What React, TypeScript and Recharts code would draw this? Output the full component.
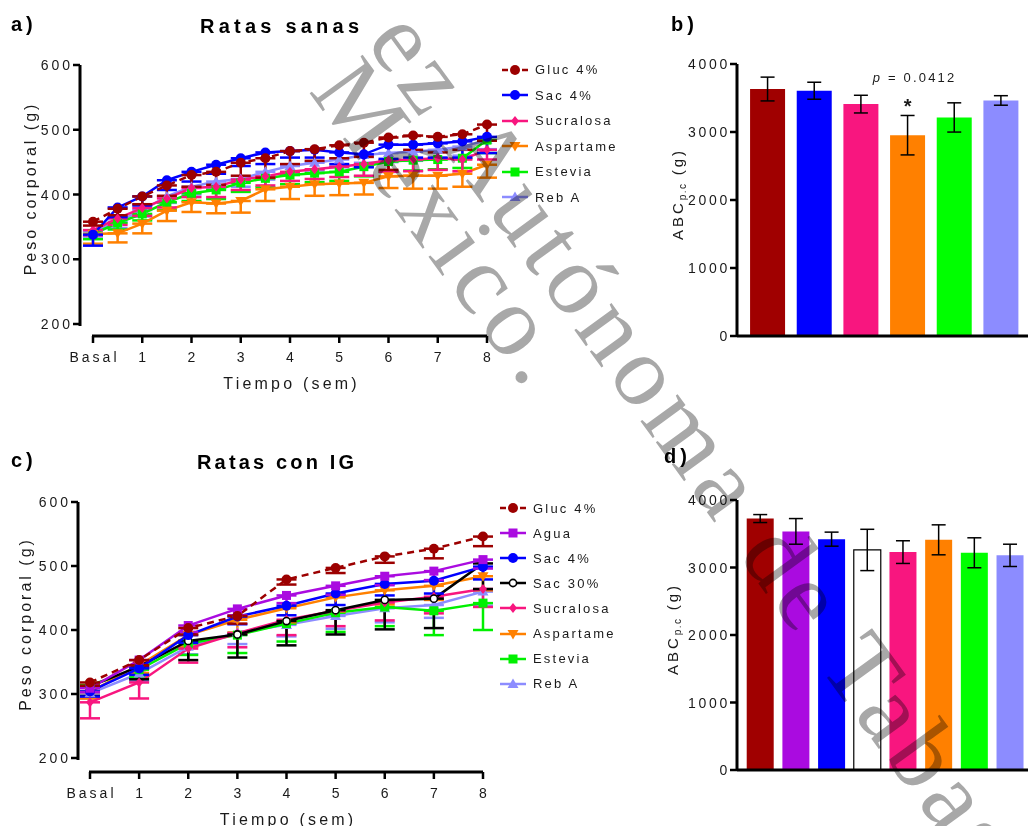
import React from 'react';
import { LineChart, Line, XAxis, YAxis, ErrorBar, Legend, BarChart, Bar, Cell, LabelList } from 'recharts';

// ---------- data: panel a (Ratas sanas) ----------
const weeksA = [0, 0.5, 1, 1.5, 2, 2.5, 3, 3.5, 4, 4.5, 5, 5.5, 6, 6.5, 7, 7.5, 8];
const glucA = [358, 378, 397, 414, 430, 435, 449, 456, 467, 470, 476, 480, 488, 491, 489, 493, 508];
const glucAErr = [6, 10, 12, 16, 18, 20, 20, 30, 20, 18, 20, 22, 50, 22, 24, 24, 25];
const sac4A = [338, 380, 397, 422, 435, 446, 456, 465, 467, 469, 465, 462, 477, 477, 479, 482, 489];
const sac4AErr = [17, 15, 14, 15, 15, 14, 12, 18, 10, 12, 18, 20, 22, 20, 22, 25, 25];
const sucraA = [345, 363, 379, 394, 410, 412, 423, 428, 435, 439, 443, 447, 453, 454, 456, 454, 469];
const sucraAErr = [8, 10, 12, 14, 14, 16, 16, 14, 14, 15, 16, 18, 18, 18, 18, 18, 15];
const aspA = [339, 340, 355, 375, 388, 386, 390, 408, 412, 416, 417, 418, 428, 429, 429, 432, 446];
const aspAErr = [15, 14, 15, 16, 15, 15, 18, 18, 19, 18, 18, 18, 18, 20, 20, 20, 20];
const estA = [339, 356, 370, 388, 402, 407, 418, 425, 430, 433, 435, 443, 451, 453, 454, 456, 484];
const estAErr = [8, 10, 10, 12, 12, 14, 14, 14, 14, 14, 14, 15, 16, 16, 15, 15, 20];
const rebA = [343, 358, 376, 397, 412, 420, 424, 435, 444, 449, 454, 461, 464, 466, 469, 474, 484];
const rebAErr = [8, 10, 10, 10, 12, 12, 12, 12, 12, 12, 12, 12, 14, 14, 14, 14, 14];

// ---------- data: panel c (Ratas con IG) ----------
const weeksC = [0, 1, 2, 3, 4, 5, 6, 7, 8];
const glucC = [318, 353, 403, 422, 479, 497, 515, 527, 546];
const glucCErr = [5, 8, 10, 12, 8, 8, 10, 15, 15];
const aguaC = [309, 353, 407, 433, 454, 469, 484, 492, 510];
const aguaCErr = [6, 8, 10, 10, 12, 14, 14, 14, 14];
const sac4C = [304, 340, 392, 421, 438, 457, 472, 477, 499];
const sac4CErr = [8, 10, 12, 12, 15, 18, 18, 20, 20];
const sac30C = [312, 343, 383, 393, 414, 431, 447, 449, 504];
const sac30CErr = [15, 20, 30, 36, 38, 38, 46, 46, 40];
const sucraC = [287, 318, 371, 395, 416, 430, 443, 452, 464];
const sucraCErr = [25, 25, 22, 22, 24, 24, 28, 26, 28];
const aspC = [303, 345, 392, 416, 434, 451, 462, 469, 484];
const aspCErr = [10, 12, 18, 20, 22, 22, 22, 22, 22];
const estC = [314, 338, 379, 392, 410, 427, 436, 430, 442];
const estCErr = [10, 12, 18, 28, 28, 30, 30, 38, 42];
const rebC = [301, 332, 374, 396, 408, 422, 434, 439, 460];
const rebCErr = [8, 12, 12, 18, 18, 20, 22, 20, 22];

const weekTicks = [0, 1, 2, 3, 4, 5, 6, 7, 8];
const weekTickLabels = ['Basal', '1', '2', '3', '4', '5', '6', '7', '8'];
const weightTicks = [200, 300, 400, 500, 600];
const abcTicks = [0, 1000, 2000, 3000, 4000];

// ---------- data: panel b / d (bars) ----------
const barCatsB = ['Gluc 4%', 'Sac 4%', 'Sucralosa', 'Aspartame', 'Estevia', 'Reb A'];
const barValsB = [3632, 3607, 3410, 2953, 3214, 3464];
const barErrB = [175, 125, 130, 290, 215, 70];
const pValueText = 'p = 0.0412';

const barCatsD = ['Gluc 4%', 'Agua', 'Sac 4%', 'Sac 30%', 'Sucralosa', 'Aspartame', 'Estevia', 'Reb A'];
const barValsD = [3725, 3535, 3420, 3260, 3228, 3410, 3218, 3180];
const barErrD = [59, 190, 104, 306, 168, 222, 222, 165];

// ---------- styles ----------
const FONT = '"Liberation Sans", Arial, Helvetica, sans-serif';
const INK = '#1a1a1a';

type Shape = 'circle' | 'openCircle' | 'diamond' | 'square' | 'triDown' | 'triUp';
type SeriesStyle = { color: string; fill: string; stroke: string; shape: Shape; dash?: string };

const STYLE: Record<string, SeriesStyle> = {
  'Gluc 4%': { color: '#9c0000', fill: '#9c0000', stroke: '#9c0000', shape: 'circle', dash: '7 5' },
  'Agua': { color: '#aa0be0', fill: '#aa0be0', stroke: '#aa0be0', shape: 'square' },
  'Sac 4%': { color: '#0000ff', fill: '#0000ff', stroke: '#0000ff', shape: 'circle' },
  'Sac 30%': { color: '#000000', fill: '#ffffff', stroke: '#000000', shape: 'openCircle' },
  'Sucralosa': { color: '#f8167f', fill: '#f8167f', stroke: '#f8167f', shape: 'diamond' },
  'Aspartame': { color: '#ff8000', fill: '#ff8000', stroke: '#ff8000', shape: 'triDown' },
  'Estevia': { color: '#00f000', fill: '#00f000', stroke: '#00f000', shape: 'square' },
  'Reb A': { color: '#8c8cff', fill: '#8c8cff', stroke: '#8c8cff', shape: 'triUp' },
};
const BAR_FILL: Record<string, string> = {
  'Gluc 4%': '#a00000', 'Agua': '#aa0be0', 'Sac 4%': '#0000ff', 'Sac 30%': '#ffffff',
  'Sucralosa': '#f8167f', 'Aspartame': '#ff8000', 'Estevia': '#00ff00', 'Reb A': '#8c8cff',
};

type Series = { key: string; name: string; values: number[]; errors: number[] };

const seriesA: Series[] = [
  { key: 'gluc', name: 'Gluc 4%', values: glucA, errors: glucAErr },
  { key: 'sac4', name: 'Sac 4%', values: sac4A, errors: sac4AErr },
  { key: 'sucra', name: 'Sucralosa', values: sucraA, errors: sucraAErr },
  { key: 'asp', name: 'Aspartame', values: aspA, errors: aspAErr },
  { key: 'est', name: 'Estevia', values: estA, errors: estAErr },
  { key: 'reb', name: 'Reb A', values: rebA, errors: rebAErr },
];
const seriesC: Series[] = [
  { key: 'gluc', name: 'Gluc 4%', values: glucC, errors: glucCErr },
  { key: 'agua', name: 'Agua', values: aguaC, errors: aguaCErr },
  { key: 'sac4', name: 'Sac 4%', values: sac4C, errors: sac4CErr },
  { key: 'sac30', name: 'Sac 30%', values: sac30C, errors: sac30CErr },
  { key: 'sucra', name: 'Sucralosa', values: sucraC, errors: sucraCErr },
  { key: 'asp', name: 'Aspartame', values: aspC, errors: aspCErr },
  { key: 'est', name: 'Estevia', values: estC, errors: estCErr },
  { key: 'reb', name: 'Reb A', values: rebC, errors: rebCErr },
];

function buildRows(weeks: number[], series: Series[]) {
  return weeks.map((w, i) => {
    const row: Record<string, any> = { week: w };
    series.forEach((s) => {
      row[s.key] = s.values[i];
      row[s.key + 'Err'] = [s.errors[i], 0];
    });
    return row;
  });
}
const rowsA = buildRows(weeksA, seriesA);
const rowsC = buildRows(weeksC, seriesC);
const rowsB = barCatsB.map((c, i) => ({ name: c, value: barValsB[i], err: barErrB[i] }));
const rowsD = barCatsD.map((c, i) => ({ name: c, value: barValsD[i], err: barErrD[i] }));

// ---------- small components ----------
function Marker({ cx, cy, st }: { cx: number; cy: number; st: SeriesStyle }) {
  if (cx == null || cy == null || isNaN(cx) || isNaN(cy)) return null;
  switch (st.shape) {
    case 'circle':
      return <circle cx={cx} cy={cy} r={5} fill={st.fill} />;
    case 'openCircle':
      return <circle cx={cx} cy={cy} r={3.6} fill="#fff" stroke={st.stroke} strokeWidth={1.6} />;
    case 'diamond':
      return <polygon points={`${cx},${cy - 5} ${cx + 4},${cy} ${cx},${cy + 5} ${cx - 4},${cy}`} fill={st.fill} />;
    case 'square':
      return <rect x={cx - 4.5} y={cy - 4.5} width={9} height={9} fill={st.fill} />;
    case 'triDown':
      return <polygon points={`${cx - 5.5},${cy - 4} ${cx + 5.5},${cy - 4} ${cx},${cy + 5.5}`} fill={st.fill} />;
    case 'triUp':
      return <polygon points={`${cx - 5.5},${cy + 4} ${cx + 5.5},${cy + 4} ${cx},${cy - 5.5}`} fill={st.fill} />;
  }
  return null;
}

function LegendBox({ series, rowH }: { series: Series[]; rowH: number }) {
  return (
    <div style={{ fontFamily: FONT }}>
      {series.map((s) => {
        const st = STYLE[s.name];
        return (
          <div key={s.key} style={{ display: 'flex', alignItems: 'center', height: rowH }}>
            <svg width={30} height={14} style={{ overflow: 'visible' }}>
              <line x1={2} x2={28} y1={7} y2={7} stroke={st.color} strokeWidth={2.5}
                strokeDasharray={st.dash ? '6 14 6' : undefined} />
              <Marker cx={15} cy={7} st={st} />
            </svg>
            <span style={{ marginLeft: 5, fontSize: 13, letterSpacing: 2.2, color: INK, whiteSpace: 'nowrap' }}>{s.name}</span>
          </div>
        );
      })}
    </div>
  );
}

const YTick = (props: any) => {
  const { x, y, payload } = props;
  return (
    <text x={x} y={y} textAnchor="end" dominantBaseline="central" fontFamily={FONT}
      fontSize={14} letterSpacing={props.ls ?? 3} fill={INK}>{payload.value}</text>
  );
};
const XWeekTick = (props: any) => {
  const { x, y, payload } = props;
  const idx = weekTicks.indexOf(payload.value);
  return (
    <text x={x + 1.5} y={y} dy="0.71em" textAnchor="middle" fontFamily={FONT}
      fontSize={14} letterSpacing={3} fill={INK}>{idx >= 0 ? weekTickLabels[idx] : payload.value}</text>
  );
};

const axisLineStyle = { stroke: '#000', strokeWidth: 3 };
const tickLineStyle = { stroke: '#000', strokeWidth: 2.5 };

function WeightChart({ rows, series, width, height, margin, yAxisW, padLeft, padBottom, titleDx, legendLeft, legendTop, rowH }: any) {
  const plotW = width - margin.left - margin.right - yAxisW;
  const plotH = height - margin.top - margin.bottom - 40;
  return (
    <LineChart width={width} height={height} data={rows} margin={margin}>
      <XAxis dataKey="week" type="number" domain={[0, 8]} ticks={weekTicks} interval={0}
        height={40} padding={{ left: padLeft, right: 0 }}
        axisLine={{ ...axisLineStyle, strokeDasharray: `${plotW - padLeft + 1} 2000`, strokeDashoffset: -(padLeft - 1) }}
        tickLine={tickLineStyle} tickSize={7} tickMargin={9} tick={<XWeekTick />}
        label={(p: any) => {
          const vb = p.viewBox || { x: 0, y: 0, width: 0, height: 0 };
          const cx = vb.x + padLeft + (vb.width - padLeft) / 2 + 1.6;
          return (
            <text x={cx} y={vb.y + 47} textAnchor="middle" dominantBaseline="central" fontFamily={FONT}
              fontSize={16} letterSpacing={3.2} fill={INK}>Tiempo (sem)</text>
          );
        }} />
      <YAxis type="number" domain={[200, 600]} ticks={weightTicks} interval={0} width={yAxisW}
        padding={{ top: 0, bottom: padBottom }}
        axisLine={{ ...axisLineStyle, strokeDasharray: `${plotH - padBottom + 2} 2000` }}
        tickLine={tickLineStyle} tickSize={7} tickMargin={0} tick={<YTick />}
        label={(p: any) => {
          const vb = p.viewBox || { x: 0, y: 0, width: 0, height: 0 };
          const cx = vb.x + titleDx;
          const cy = vb.y + (vb.height - padBottom) / 2 - 6;
          return (
            <text x={cx} y={cy} transform={`rotate(-90 ${cx} ${cy})`} textAnchor="middle" dominantBaseline="central"
              fontFamily={FONT} fontSize={16} letterSpacing={3} fill={INK}>Peso corporal (g)</text>
          );
        }} />
      {series.slice().reverse().map((s: Series) => {
        const st = STYLE[s.name];
        return (
          <Line key={s.key} dataKey={s.key} name={s.name} stroke={st.color} strokeWidth={2.5}
            strokeDasharray={st.dash} isAnimationActive={false}
            dot={(p: any) => <Marker key={`${s.key}-${p.index}`} cx={p.cx} cy={p.cy} st={st} />}
            activeDot={false}>
            <ErrorBar dataKey={s.key + 'Err'} width={10} stroke={st.color} strokeWidth={2.5} direction="y" />
          </Line>
        );
      })}
      <Legend layout="vertical" align="center" verticalAlign="middle"
        wrapperStyle={{ left: legendLeft, top: legendTop, width: 140 }}
        content={() => <LegendBox series={series} rowH={rowH} />} />
    </LineChart>
  );
}

function AbcTitle({ vb, dx }: { vb: any; dx: number }) {
  const cx = vb.x + dx;
  const cy = vb.y + vb.height / 2 - 6;
  return (
    <text x={cx} y={cy} transform={`rotate(-90 ${cx} ${cy})`} textAnchor="middle" dominantBaseline="central"
      fontFamily={FONT} fill={INK} letterSpacing={3}>
      <tspan fontSize={15}>ABC</tspan>
      <tspan fontSize={10} dy={5} letterSpacing={1.5}>p.c</tspan>
      <tspan fontSize={15} dy={-5}>{' (g)'}</tspan>
    </text>
  );
}

function AbcChart({ rows, width, height, margin, padLeft, padRight, gap, titleDx, annotate }: any) {
  return (
    <BarChart width={width} height={height} data={rows} margin={margin} barCategoryGap={gap}>
      <XAxis dataKey="name" type="category" height={30} padding={{ left: padLeft, right: padRight }}
        axisLine={axisLineStyle} tickLine={tickLineStyle} tickSize={-5} tick={false} interval={0} />
      <YAxis type="number" domain={[0, 4000]} ticks={abcTicks} interval={0} width={97}
        axisLine={axisLineStyle} tickLine={tickLineStyle} tickSize={7} tickMargin={0}
        tick={<YTick ls={2.7} />}
        label={(p: any) => <AbcTitle vb={p.viewBox || { x: 0, y: 0, width: 0, height: 0 }} dx={titleDx} />} />
      <Bar dataKey="value" isAnimationActive={false}>
        {rows.map((r: any) => (
          <Cell key={r.name} fill={BAR_FILL[r.name]}
            stroke={r.name === 'Sac 30%' ? '#000' : 'none'} strokeWidth={r.name === 'Sac 30%' ? 1.2 : 0} />
        ))}
        <ErrorBar dataKey="err" width={7} stroke="#000" strokeWidth={1.5} direction="y" />
        {annotate ? (
          <LabelList dataKey="value" content={(p: any) => {
            if (p.index !== annotate.index) return null;
            const err = rows[p.index].err;
            const top = p.y - (p.height * err) / p.value;
            const cx = p.x + p.width / 2;
            return (
              <g>
                <text x={cx} y={top - 9} textAnchor="middle" dominantBaseline="central" fontFamily={FONT}
                  fontSize={20} fontWeight="bold" fill={INK}>*</text>
                <text x={cx + 7} y={top - 38} textAnchor="middle" dominantBaseline="central" fontFamily={FONT}
                  fontSize={13} letterSpacing={2.2} fill={INK}>
                  <tspan fontStyle="italic">p</tspan>{annotate.text.slice(1)}
                </text>
              </g>
            );
          }} />
        ) : null}
      </Bar>
    </BarChart>
  );
}

export default function App() {
  return (
    <div style={{ position: 'absolute', left: 0, top: 0, width: 1028, height: 826, overflow: 'hidden', background: '#fff', fontFamily: FONT }}>
      <div style={{ position: 'absolute', left: 0, top: 0 }}>
        <WeightChart rows={rowsA} series={seriesA} width={640} height={400}
          margin={{ top: 65, right: 153, bottom: 24, left: 0 }} yAxisW={80}
          padLeft={13} padBottom={12} titleDx={30} legendLeft={500} legendTop={57} rowH={25.5} />
      </div>
      <div style={{ position: 'absolute', left: 0, top: 440 }}>
        <WeightChart rows={rowsC} series={seriesC} width={640} height={386}
          margin={{ top: 62, right: 157, bottom: 14, left: 0 }} yAxisW={78}
          padLeft={12} padBottom={14} titleDx={25} legendLeft={498} legendTop={55.5} rowH={25.1} />
      </div>
      <div style={{ position: 'absolute', left: 640, top: 0 }}>
        <AbcChart rows={rowsB} width={388} height={400} margin={{ top: 64, right: 0, bottom: 34, left: 0 }}
          padLeft={7} padRight={4} gap="13%" titleDx={37} annotate={{ index: 3, text: pValueText }} />
      </div>
      <div style={{ position: 'absolute', left: 640, top: 440 }}>
        <AbcChart rows={rowsD} width={388} height={386} margin={{ top: 60, right: 0, bottom: 26, left: 0 }}
          padLeft={5.5} padRight={0} gap="11.8%" titleDx={32} annotate={null} />
      </div>
      <svg width={1028} height={826} style={{ position: 'absolute', left: 0, top: 0, pointerEvents: 'none' }}>
        <g fontFamily={FONT} fontWeight="bold" fill="#000" letterSpacing={4}>
          <text x={11} y={31} fontSize={20}>a)</text>
          <text x={200} y={33} fontSize={20} textLength={163} lengthAdjust="spacing">Ratas sanas</text>
          <text x={671} y={31} fontSize={20}>b)</text>
          <text x={11} y={467} fontSize={20}>c)</text>
          <text x={197} y={469} fontSize={20} textLength={161} lengthAdjust="spacing">Ratas con IG</text>
          <text x={664} y={463} fontSize={20}>d)</text>
        </g>
      </svg>
      <svg width={1028} height={826} style={{ position: 'absolute', left: 0, top: 0, pointerEvents: 'none', mixBlendMode: 'multiply' }}>
        <g fontFamily='"Liberation Serif", "Times New Roman", serif' fontSize={100} letterSpacing={6.5} fill="#a8a8a8">
          <text x={365} y={42} transform="rotate(54 365 42)">ez Autónoma de Tabasco</text>
          <text x={308} y={91} transform="rotate(54 308 91)">México.</text>
        </g>
      </svg>
    </div>
  );
}
